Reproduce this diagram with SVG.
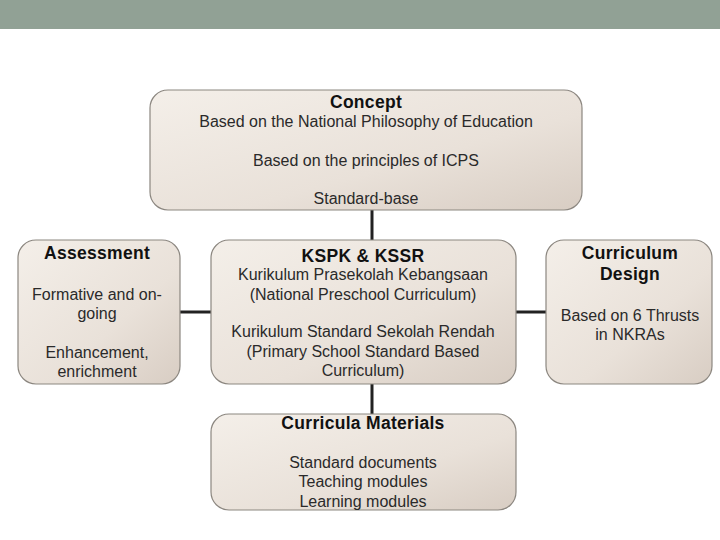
<svg xmlns="http://www.w3.org/2000/svg" width="720" height="540" viewBox="0 0 720 540">
<defs>
<linearGradient id="g" x1="0" y1="0" x2="1" y2="1">
<stop offset="0" stop-color="#f4efe9"/>
<stop offset="0.6" stop-color="#e9e1d9"/>
<stop offset="1" stop-color="#d8cdc3"/>
</linearGradient>
<style>
.box{fill:url(#g);stroke:#8c8780;stroke-width:1.2}
.t{font-family:"Liberation Sans",Arial,sans-serif;font-size:16px;fill:#2a2a2a;text-anchor:middle}
.b{font-family:"Liberation Sans",Arial,sans-serif;font-size:17.5px;font-weight:bold;fill:#111;text-anchor:middle;letter-spacing:0.3px}
.c{stroke:#222;stroke-width:3;fill:none}
</style>
</defs>
<rect x="0" y="0" width="720" height="29" fill="#91a195"/>
<g id="connectors">
<line class="c" x1="372" y1="210" x2="372" y2="240"/>
<line class="c" x1="180" y1="312" x2="211" y2="312"/>
<line class="c" x1="516" y1="312" x2="546" y2="312"/>
<line class="c" x1="372" y1="384" x2="372" y2="414"/>
</g>
<g id="concept">
<rect class="box" x="150" y="90" width="432" height="120" rx="18"/>
<text class="b" x="366" y="108">Concept</text>
<text class="t" x="366" y="127">Based on the National Philosophy of Education</text>
<text class="t" x="366" y="166">Based on the principles of ICPS</text>
<text class="t" x="366" y="204">Standard-base</text>
</g>
<g id="assessment">
<rect class="box" x="18" y="240" width="162" height="144" rx="18"/>
<text class="b" x="97" y="259">Assessment</text>
<text class="t" x="97" y="300">Formative and on-</text>
<text class="t" x="97" y="319">going</text>
<text class="t" x="97" y="358">Enhancement,</text>
<text class="t" x="97" y="377">enrichment</text>
</g>
<g id="kspk">
<rect class="box" x="211" y="240" width="305" height="144" rx="18"/>
<text class="b" x="363" y="262">KSPK &amp; KSSR</text>
<text class="t" x="363" y="280">Kurikulum Prasekolah Kebangsaan</text>
<text class="t" x="363" y="300">(National Preschool Curriculum)</text>
<text class="t" x="363" y="337">Kurikulum Standard Sekolah Rendah</text>
<text class="t" x="363" y="357">(Primary School Standard Based</text>
<text class="t" x="363" y="376">Curriculum)</text>
</g>
<g id="design">
<rect class="box" x="546" y="240" width="166" height="144" rx="18"/>
<text class="b" x="630" y="259">Curriculum</text>
<text class="b" x="630" y="280">Design</text>
<text class="t" x="630" y="321">Based on 6 Thrusts</text>
<text class="t" x="630" y="340">in NKRAs</text>
</g>
<g id="materials">
<rect class="box" x="211" y="414" width="305" height="96" rx="18"/>
<text class="b" x="363" y="429">Curricula Materials</text>
<text class="t" x="363" y="468">Standard documents</text>
<text class="t" x="363" y="487">Teaching modules</text>
<text class="t" x="363" y="507">Learning modules</text>
</g>
</svg>
